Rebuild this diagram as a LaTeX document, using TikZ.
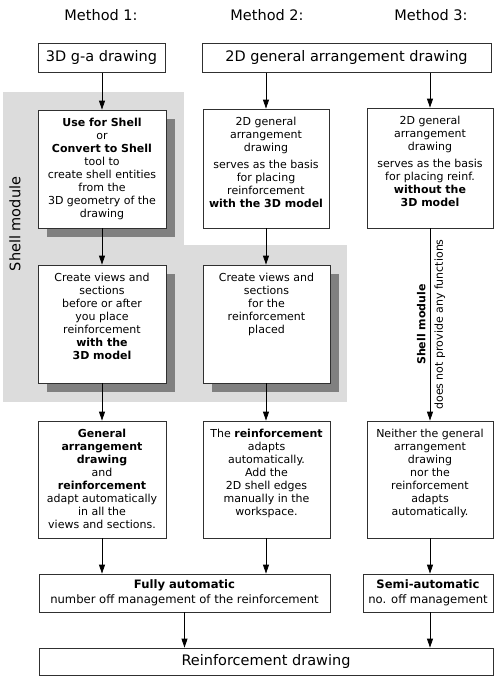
\documentclass[tikz,border=0pt]{standalone}
\usepackage{fontspec}
\setmainfont{DejaVu Sans}
\usetikzlibrary{arrows.meta,shadows}
\definecolor{regiongray}{HTML}{DCDCDC}
\definecolor{shadowgray}{HTML}{808080}
\definecolor{edgegray}{HTML}{303030}
\newcommand{\bxt}[3]{\parbox[c][#2][t]{#1}{\centering\fontsize{11}{13}\selectfont\vspace*{8pt}#3}}
\begin{document}
\begin{tikzpicture}[x=1pt,y=-1pt,
  box/.style={draw=edgegray, line width=0.8pt, fill=white, inner sep=0pt},
  bigbox/.style={box, minimum height=29pt, font=\fontsize{14.5}{16}\selectfont},
  sbox/.style={box, align=center, font=\fontsize{11.6}{14.5}\selectfont},
  shad/.style={drop shadow={shadow xshift=9pt, shadow yshift=-9pt, opacity=1, fill=shadowgray}},
  arr/.style={-{Triangle[length=9pt,width=6pt]}, line width=0.8pt},
  title/.style={font=\fontsize{14.5}{16}\selectfont},
  vlab/.style={rotate=90, inner sep=4pt, font=\fontsize{11}{13}\selectfont}]
\useasboundingbox (0,0) rectangle (495,677);
% titles
\node[title] (t1) at (101,15) {Method 1:};
\node[title] (t2) at (267,15) {Method 2:};
\node[title] (t3) at (431,15) {Method 3:};
% shell module regions
\fill[regiongray] (3,92) rectangle (184,402);
\fill[regiongray] (184,245) rectangle (347,402);
\node[title, rotate=90] (sm) at (15,224) {Shell module};
% top boxes
\node[bigbox, minimum width=127pt] (A0) at (101.5,58) {3D g-a drawing};
\node[bigbox, minimum width=289pt] (B0) at (346.5,58) {2D general arrangement drawing};
% row 1
\node[box, shad] (A1) at (102,169) {\bxt{128pt}{118pt}{\textbf{Use for Shell}\\ or\\ \textbf{Convert to Shell}\\ tool to\\ create shell entities\\ from the\\ 3D geometry of the\\ drawing}};
\node[box] (B1) at (266,168.5) {\bxt{126pt}{119pt}{2D general\\ arrangement\\ drawing\\[4pt] serves as the basis\\ for placing\\ reinforcement\\ \textbf{with the 3D model}}};
\node[box] (C1) at (430,168) {\bxt{126pt}{120pt}{2D general\\ arrangement\\ drawing\\[4pt] serves as the basis\\ for placing reinf.\\ \textbf{without the}\\ \textbf{3D model}}};
% row 2
\node[box, shad] (A2) at (102,324) {\bxt{128pt}{118pt}{Create views and\\ sections\\ before or after\\ you place\\ reinforcement\\ \textbf{with the}\\ \textbf{3D model}}};
\node[box, shad] (B2) at (266.5,324) {\bxt{127pt}{118pt}{Create views and\\ sections\\ for the\\ reinforcement\\ placed}};
% row 3
\node[box] (A3) at (102,479.5) {\bxt{128pt}{117pt}{\textbf{General}\\ \textbf{arrangement}\\ \textbf{drawing}\\ and\\ \textbf{reinforcement}\\ adapt automatically\\ in all the\\ views and sections.}};
\node[box] (B3) at (266.5,479.5) {\bxt{127pt}{117pt}{The \textbf{reinforcement}\\ adapts\\ automatically.\\ Add the\\ 2D shell edges\\ manually in the\\ workspace.}};
\node[box] (C3) at (430,479.5) {\bxt{126pt}{117pt}{Neither the general\\ arrangement\\ drawing\\ nor the\\ reinforcement\\ adapts\\ automatically.}};
% row 4
\node[sbox, minimum width=291pt, minimum height=38pt] (FA) at (184.5,593) {\textbf{Fully automatic}\\ number off management of the reinforcement};
\node[sbox, minimum width=130pt, minimum height=38pt] (SA) at (428,593) {\textbf{Semi-automatic}\\ no. off management};
% bottom
\node[bigbox, minimum width=454pt, minimum height=27pt] (RD) at (266,661.5) {Reinforcement drawing};
% arrows
\draw[arr] (A0.south -| A1.north) -- (A1.north);
\draw[arr] (B0.south -| B1.north) -- (B1.north);
\draw[arr] (B0.south -| C1.north) -- (C1.north);
\draw[arr] (A1.south) -- (A2.north);
\draw[arr] (B1.south) -- (B1.south |- B2.north);
\draw[arr] (A2.south) -- (A3.north);
\draw[arr] (B2.south -| B1.south) -- (B1.south |- B3.north);
\draw[arr] (C1.south) --
  node[vlab, anchor=south, font=\bfseries\fontsize{11}{13}\selectfont] (shl) {Shell module}
  node[vlab, anchor=north] (dnp) {does not provide any functions}
  (C3.north);
\draw[arr] (A3.south) -- (A3.south |- FA.north);
\draw[arr] (B3.south -| B1.south) -- (B1.south |- FA.north);
\draw[arr] (C3.south) -- (C3.south |- SA.north);
\draw[arr] (FA.south) -- (FA.south |- RD.north);
\draw[arr] (SA.south -| C3.south) -- (C3.south |- RD.north);
\end{tikzpicture}
\end{document}
